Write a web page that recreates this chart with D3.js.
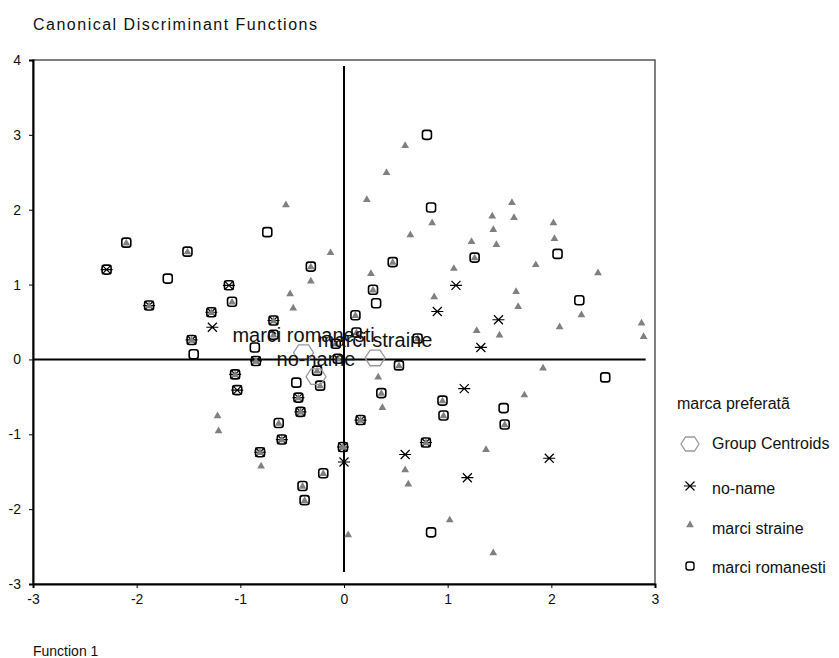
<!DOCTYPE html>
<html>
<head>
<meta charset="utf-8">
<script src="https://cdn.jsdelivr.net/npm/d3@7"></script>
<style>
  body { margin: 0; background: #fff; }
  svg { display: block; }
  text { font-family: "Liberation Sans", Arial, sans-serif; }
</style>
</head>
<body>
<svg id="chart" width="839" height="658"></svg>
<script>
// ---- data ----
const xTicks = [-3, -2, -1, 0, 1, 2, 3];
const yTicks = [-3, -2, -1, 0, 1, 2, 3, 4];
const groupNames = ["no-name", "marci straine", "marci romanesti"];

// no-name cases (asterisks)
const noName = [
  [-1.27, 0.43], [1.08, 0.99], [0.90, 0.64], [1.49, 0.53], [1.32, 0.16],
  [0.00, -1.37], [1.16, -0.39], [0.59, -1.27], [1.19, -1.58], [1.98, -1.32],
  [-2.29, 1.20], [-1.11, 0.99], [-1.03, -0.41],
  [-1.88, 0.72], [-1.28, 0.63], [-0.68, 0.52], [-1.47, 0.26], [-0.85, -0.02],
  [-1.05, -0.20], [-0.44, -0.51], [-0.42, -0.70], [-0.60, -1.07], [-0.81, -1.24],
  [-0.01, -1.17], [0.16, -0.81], [0.79, -1.11]
];

// marci straine cases (triangles)
const straine = [
  [-0.56, 2.07], [-0.13, 1.43], [-0.32, 1.05], [-0.52, 0.88], [-0.49, 0.69],
  [0.59, 2.86], [0.41, 2.50], [0.22, 2.14], [0.85, 1.83], [0.64, 1.67],
  [1.62, 2.10], [1.43, 1.92], [1.64, 1.90], [1.44, 1.74], [1.23, 1.58],
  [1.47, 1.54], [1.06, 1.22], [0.26, 1.15], [1.66, 0.91], [0.87, 0.84],
  [1.68, 0.71], [1.28, 0.39], [1.50, 0.33], [2.02, 1.83], [2.03, 1.62],
  [1.85, 1.27], [2.45, 1.16], [2.29, 0.60], [2.08, 0.44], [2.87, 0.49],
  [2.89, 0.31], [1.92, -0.11], [1.74, -0.47], [0.33, -0.23], [0.37, -0.64],
  [0.59, -1.47], [0.62, -1.66], [1.37, -1.20], [1.02, -2.14], [1.44, -2.58],
  [0.04, -2.34], [-1.22, -0.75], [-1.21, -0.95], [-0.80, -1.42],
  [-2.10, 1.56], [-1.51, 1.44], [-0.32, 1.24], [-1.08, 0.77], [-0.68, 0.33],
  [0.11, 0.59], [0.12, 0.36], [1.26, 1.36], [0.47, 1.30], [0.28, 0.93],
  [0.71, 0.28], [-0.08, 0.21], [-0.06, 0.01], [-0.26, -0.15], [-0.23, -0.35],
  [-0.63, -0.85], [-0.20, -1.52], [-0.40, -1.69], [-0.38, -1.88], [0.53, -0.08],
  [0.36, -0.45], [0.95, -0.55], [0.96, -0.75], [1.55, -0.87],
  [-1.88, 0.72], [-1.28, 0.63], [-0.68, 0.52], [-1.47, 0.26], [-0.85, -0.02],
  [-1.05, -0.20], [-0.44, -0.51], [-0.42, -0.70], [-0.60, -1.07], [-0.81, -1.24],
  [-0.01, -1.17], [0.16, -0.81], [0.79, -1.11]
];

// marci romanesti cases (squares)
const romanesti = [
  [-1.70, 1.08], [-0.74, 1.70], [-1.45, 0.07], [-0.86, 0.16], [0.80, 3.00],
  [0.84, 2.03], [0.31, 0.75], [2.06, 1.41], [2.27, 0.79], [-0.46, -0.31],
  [1.54, -0.65], [0.84, -2.31], [2.52, -0.24],
  [-2.10, 1.56], [-1.51, 1.44], [-0.32, 1.24], [-1.08, 0.77], [-0.68, 0.33],
  [0.11, 0.59], [0.12, 0.36], [1.26, 1.36], [0.47, 1.30], [0.28, 0.93],
  [0.71, 0.28], [-0.08, 0.21], [-0.06, 0.01], [-0.26, -0.15], [-0.23, -0.35],
  [-0.63, -0.85], [-0.20, -1.52], [-0.40, -1.69], [-0.38, -1.88], [0.53, -0.08],
  [0.36, -0.45], [0.95, -0.55], [0.96, -0.75], [1.55, -0.87],
  [-2.29, 1.20], [-1.11, 0.99], [-1.03, -0.41],
  [-1.88, 0.72], [-1.28, 0.63], [-0.68, 0.52], [-1.47, 0.26], [-0.85, -0.02],
  [-1.05, -0.20], [-0.44, -0.51], [-0.42, -0.70], [-0.60, -1.07], [-0.81, -1.24],
  [-0.01, -1.17], [0.16, -0.81], [0.79, -1.11]
];

// group centroids
const centroidNames = ["marci romanesti", "no-name", "marci straine"];
const centroidX = [-0.39, -0.27, 0.30];
const centroidY = [0.09, -0.23, 0.02];

// zero reference lines extents
const refLineX = [-3, 2.91];
const refLineY = [-2.84, 3.92];

const legendTitle = "marca preferatã";
const legendLabels = ["Group Centroids", "no-name", "marci straine", "marci romanesti"];

// ---- drawing ----
const svg = d3.select("#chart");
const x = d3.scaleLinear().domain([-3, 3]).range([33, 655]);
const y = d3.scaleLinear().domain([-3, 4]).range([584, 60]);

// title
svg.append("text").attr("x", 33).attr("y", 30)
  .attr("font-size", 16).attr("letter-spacing", 1.5).attr("fill", "#111")
  .text("Canonical Discriminant Functions");

// frame
svg.append("rect").attr("x", x(-3)).attr("y", y(4))
  .attr("width", x(3) - x(-3)).attr("height", y(-3) - y(4))
  .attr("fill", "none").attr("stroke", "#555").attr("stroke-width", 1.5);

// axes
const fmt = d => String(d);
const yAxis = svg.append("g").attr("transform", `translate(${x(-3)},0)`)
  .call(d3.axisLeft(y).tickValues(yTicks).tickSize(4).tickPadding(8).tickFormat(fmt));
const xAxis = svg.append("g").attr("transform", `translate(0,${y(-3)})`)
  .call(d3.axisBottom(x).tickValues(xTicks).tickSize(4).tickPadding(6).tickFormat(fmt));
[xAxis, yAxis].forEach(g => {
  g.select(".domain").attr("stroke", "#000").attr("stroke-width", 2);
  g.selectAll(".tick line").attr("stroke", "#000");
  g.selectAll(".tick text").attr("font-size", 14).attr("fill", "#111")
    .style("font-family", '"Liberation Sans", Arial, sans-serif');
});

// x-axis title
svg.append("text").attr("x", 33).attr("y", 656)
  .attr("font-size", 14).attr("fill", "#111").text("Function 1");

// zero lines
svg.append("line").attr("x1", x(refLineX[0])).attr("x2", x(refLineX[1]))
  .attr("y1", y(0)).attr("y2", y(0)).attr("stroke", "#000").attr("stroke-width", 2);
svg.append("line").attr("x1", x(0)).attr("x2", x(0))
  .attr("y1", y(refLineY[1])).attr("y2", y(refLineY[0])).attr("stroke", "#000").attr("stroke-width", 2);

// symbol generators
const asteriskPath = "M-6,0H6M-4.5,-4.5L4.5,4.5M-4.5,4.5L4.5,-4.5";
const trianglePath = d3.symbol().type(d3.symbolTriangle).size(26)();
function hexPath(r) {
  const pts = d3.range(6).map(i => {
    const a = i * Math.PI / 3;
    return [r * Math.cos(a), r * 0.9 * Math.sin(a)];
  });
  return "M" + pts.map(p => p.join(",")).join("L") + "Z";
}

// no-name asterisks
svg.append("g").selectAll("path").data(noName).join("path")
  .attr("transform", d => `translate(${x(d[0])},${y(d[1])})`)
  .attr("d", asteriskPath).attr("stroke", "#000").attr("stroke-width", 1.2).attr("fill", "none");

// marci straine triangles
svg.append("g").selectAll("path").data(straine).join("path")
  .attr("transform", d => `translate(${x(d[0])},${y(d[1]) + 0.5})`)
  .attr("d", trianglePath).attr("fill", "#808080");

// marci romanesti squares
svg.append("g").selectAll("rect").data(romanesti).join("rect")
  .attr("x", d => x(d[0]) - 4.5).attr("y", d => y(d[1]) - 4.5)
  .attr("width", 9).attr("height", 9).attr("rx", 2.5)
  .attr("fill", "none").attr("stroke", "#000").attr("stroke-width", 1.6);

// centroids
const cents = centroidNames.map((n, i) => ({ name: n, cx: centroidX[i], cy: centroidY[i] }));
svg.append("g").selectAll("path").data(cents).join("path")
  .attr("transform", d => `translate(${x(d.cx)},${y(d.cy)})`)
  .attr("d", hexPath(10)).attr("fill", "none").attr("stroke", "#999").attr("stroke-width", 1.3);
svg.append("g").selectAll("text").data(cents).join("text")
  .attr("x", d => x(d.cx)).attr("y", d => y(d.cy) - 11)
  .attr("text-anchor", "middle").attr("font-size", 20).attr("fill", "#111")
  .text(d => d.name);

// legend
const lg = svg.append("g");
lg.append("text").attr("x", 677).attr("y", 409).attr("font-size", 16).attr("fill", "#111").text(legendTitle);
const rowY = [444, 489, 529, 568];
const mx = 690, tx = 712;
lg.append("path").attr("transform", `translate(${mx},${rowY[0]})`).attr("d", hexPath(9))
  .attr("fill", "none").attr("stroke", "#999").attr("stroke-width", 1.3);
lg.append("path").attr("transform", `translate(${mx},${rowY[1] - 3})`).attr("d", asteriskPath)
  .attr("stroke", "#000").attr("stroke-width", 1.2).attr("fill", "none");
lg.append("path").attr("transform", `translate(${mx},${rowY[2] - 4})`).attr("d", trianglePath).attr("fill", "#808080");
lg.append("rect").attr("x", mx - 4).attr("y", rowY[3] - 6).attr("width", 8).attr("height", 8).attr("rx", 2.5)
  .attr("fill", "none").attr("stroke", "#000").attr("stroke-width", 1.4);
lg.selectAll("text.item").data(legendLabels).join("text").attr("class", "item")
  .attr("x", tx).attr("y", (d, i) => rowY[i] + 5).attr("font-size", 16).attr("fill", "#111")
  .text(d => d);
</script>
</body>
</html>
